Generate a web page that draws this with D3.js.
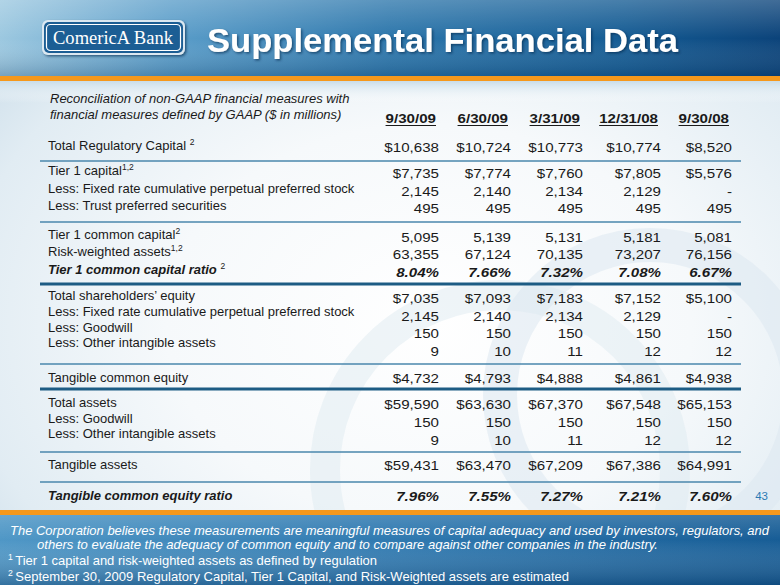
<!DOCTYPE html>
<html><head><meta charset="utf-8">
<script src="https://cdn.jsdelivr.net/npm/d3@7"></script>
<style>html,body{margin:0;padding:0;background:#fff;} svg{display:block;}</style>
</head><body>
<svg id="c" width="780" height="585"></svg>
<script>
// ---------- DATA ----------
const titleText = "Supplemental Financial Data";
const periods = ["9/30/09", "6/30/09", "3/31/09", "12/31/08", "9/30/08"];
const rowLabels = [
  "Total Regulatory Capital ^2",
  "Tier 1 capital^1,2",
  "Less: Fixed rate cumulative perpetual preferred stock",
  "Less: Trust preferred securities",
  "Tier 1 common capital^2",
  "Risk-weighted assets^1,2",
  "Tier 1 common capital ratio ^2",
  "Total shareholders\u2019 equity",
  "Less: Fixed rate cumulative perpetual preferred stock",
  "Less: Goodwill",
  "Less: Other intangible assets",
  "Tangible common equity",
  "Total assets",
  "Less: Goodwill",
  "Less: Other intangible assets",
  "Tangible assets",
  "Tangible common equity ratio"
];
const rowFormats = ["usd","usd","num","num","num","num","pct","usd","num","num","num","usd","usd","num","num","usd","pct"];
const vals_093009 = [10638, 7735, 2145, 495, 5095, 63355, 8.04, 7035, 2145, 150, 9, 4732, 59590, 150, 9, 59431, 7.96];
const vals_063009 = [10724, 7774, 2140, 495, 5139, 67124, 7.66, 7093, 2140, 150, 10, 4793, 63630, 150, 10, 63470, 7.55];
const vals_033109 = [10773, 7760, 2134, 495, 5131, 70135, 7.32, 7183, 2134, 150, 11, 4888, 67370, 150, 11, 67209, 7.27];
const vals_123108 = [10774, 7805, 2129, 495, 5181, 73207, 7.08, 7152, 2129, 150, 12, 4861, 67548, 150, 12, 67386, 7.21];
const vals_093008 = [8520, 5576, null, 495, 5081, 76156, 6.67, 5100, null, 150, 12, 4938, 65153, 150, 12, 64991, 7.60];
const headerNote = ["Reconciliation of non-GAAP financial measures with", "financial measures defined by GAAP ($ in millions)"];
const footNotes = [
  "The Corporation believes these measurements are meaningful measures of capital adequacy and used by investors, regulators, and",
  "others to evaluate the adequacy of common equity and to compare against other companies in the industry.",
  "Tier 1 capital and risk-weighted assets as defined by regulation",
  "September 30, 2009 Regulatory Capital, Tier 1 Capital, and Risk-Weighted assets are estimated"
];
const pageNumber = "43";

// ---------- LAYOUT ----------
const W = 780, H = 585;
const svg = d3.select("#c");
const defs = svg.append("defs");
const colRight = d3.scaleOrdinal().domain(periods).range([439, 511, 583, 661, 732]);
const rowIdx = d3.range(rowLabels.length);
const labelY = d3.scaleOrdinal().domain(rowIdx).range([150,175,193,210,239,256,274,300,316,332,347,382,407,423,438,469,500]);
const valueY = d3.scaleOrdinal().domain(rowIdx).range([152,178,196,213,242,259,277,303,321,338,356,383,409,427,445,470,501]);
const rules = [{y:161,w:1.6,c:"#4a87ad"},{y:222,w:1.6,c:"#4a87ad"},{y:284,w:3,c:"#1d5c84"},{y:364,w:1.6,c:"#4a87ad"},{y:389,w:3,c:"#1d5c84"},{y:452,w:1.6,c:"#4a87ad"},{y:482,w:1.6,c:"#4a87ad"}];
const FONT = "'Liberation Sans', Arial, Helvetica, sans-serif";

function lg(id, x1,y1,x2,y2, stops){
  const g = defs.append("linearGradient").attr("id",id).attr("x1",x1).attr("y1",y1).attr("x2",x2).attr("y2",y2);
  stops.forEach(s=>g.append("stop").attr("offset",s[0]).attr("stop-color",s[1]).attr("stop-opacity", s[2]==null?1:s[2]));
}
lg("hdrH","0","0","1","0",[[0,"#9cc8e0"],[0.22,"#5a9dc9"],[0.5,"#2c76ab"],[0.8,"#145b93"],[1,"#0b437a"]]);
lg("hdrV","0","0","0","1",[[0,"#ffffff",0.22],[0.5,"#ffffff",0.0],[1,"#002850",0.25]]);
lg("ftrH","0","0","1","0",[[0,"#4f97c6"],[0.5,"#2f79b0"],[1,"#175d96"]]);
lg("ftrV","0","0","0","1",[[0,"#ffffff",0.18],[0.4,"#ffffff",0.0],[1,"#002a55",0.35]]);
const rg = defs.append("radialGradient").attr("id","body").attr("cx","0.55").attr("cy","0.55").attr("r","0.75");
[[0,"#ffffff"],[0.45,"#f6f9fb"],[0.8,"#e1ecf3"],[1,"#c8dbe8"]].forEach(s=>rg.append("stop").attr("offset",s[0]).attr("stop-color",s[1]));
lg("bodyTop","0","0","0","1",[[0,"#c9dde9",1],[1,"#ffffff",0]]);
const f = defs.append("filter").attr("id","sh").attr("x","-10%").attr("y","-20%").attr("width","120%").attr("height","150%");
f.append("feDropShadow").attr("dx",1.5).attr("dy",1.5).attr("stdDeviation",1.2).attr("flood-color","#06284a").attr("flood-opacity",0.6);

// body background
svg.append("rect").attr("width",W).attr("height",H).attr("fill","url(#body)");
svg.append("rect").attr("y",81).attr("width",W).attr("height",22).attr("fill","url(#bodyTop)");
// watermark arcs
const wm = svg.append("g").attr("fill","none").attr("stroke","#dce8f0").attr("stroke-opacity",0.55);
wm.append("circle").attr("cx",650).attr("cy",395).attr("r",150).attr("stroke-width",34);
wm.append("circle").attr("cx",500).attr("cy",470).attr("r",175).attr("stroke-width",30).attr("stroke-opacity",0.45);

// header band
svg.append("rect").attr("width",W).attr("height",77).attr("fill","url(#hdrH)");
svg.append("rect").attr("width",W).attr("height",77).attr("fill","url(#hdrV)");
svg.append("rect").attr("y",76).attr("width",W).attr("height",5).attr("fill","#f5981c");

// logo
const logo = svg.append("g");
logo.append("rect").attr("x",42).attr("y",20).attr("width",143).attr("height",35).attr("rx",6).attr("fill","#dbe8f1").attr("filter","url(#sh)");
logo.append("rect").attr("x",44).attr("y",22).attr("width",139).attr("height",31).attr("rx",5).attr("fill","#1c5e94");
logo.append("rect").attr("x",46.5).attr("y",24.5).attr("width",134).attr("height",26).attr("rx",4).attr("fill","none").attr("stroke","#ffffff").attr("stroke-width",1.2);
logo.append("text").attr("x",53).attr("y",43.5).attr("textLength",120).attr("lengthAdjust","spacingAndGlyphs")
  .attr("font-family","'Liberation Serif','DejaVu Serif',serif").attr("font-size",19).attr("fill","#fff").text("ComericA Bank");

// title
svg.append("text").attr("x",207).attr("y",52).attr("textLength",471).attr("lengthAdjust","spacingAndGlyphs")
  .attr("font-family",FONT).attr("font-weight","bold").attr("font-size",32.5).attr("fill","#fff")
  .attr("filter","url(#sh)").text(titleText);

// footer band
svg.append("rect").attr("y",510).attr("width",W).attr("height",75).attr("fill","url(#ftrH)");
svg.append("rect").attr("y",510).attr("width",W).attr("height",75).attr("fill","url(#ftrV)");
svg.append("rect").attr("y",510).attr("width",W).attr("height",5).attr("fill","#f5981c");

// table header note
svg.selectAll("text.hn").data(headerNote).join("text").attr("class","hn")
  .attr("x",50).attr("y",(d,i)=>103+i*15.5)
  .attr("font-family",FONT).attr("font-style","italic").attr("font-size",13).attr("fill","#1a1a1a").text(d=>d);

// column headers
const VS = 1.12, VF = 13.5;
periods.forEach(p=>{
  const g = svg.append("g").attr("transform",`translate(${colRight(p)-3},123) scale(${VS},1)`);
  const t = g.append("text").attr("text-anchor","end").attr("font-family",FONT).attr("font-weight","bold")
    .attr("font-size",VF).attr("fill","#1a1a1a").text(p);
  const len = t.node().getComputedTextLength();
  g.append("line").attr("x1",-len).attr("x2",0).attr("y1",2.5).attr("y2",2.5).attr("stroke","#1a1a1a").attr("stroke-width",1.1);
});

// rules
svg.selectAll("line.rule").data(rules).join("line").attr("class","rule")
  .attr("x1",40).attr("x2",741).attr("y1",d=>d.y).attr("y2",d=>d.y)
  .attr("stroke",d=>d.c).attr("stroke-width",d=>d.w);

// row labels
const boldRows = new Set([6,16]);
rowLabels.forEach((lab,i)=>{
  const parts = lab.split("^");
  const t = svg.append("text").attr("x",48).attr("y",labelY(i)).attr("font-family",FONT).attr("font-size",13)
    .attr("fill","#1a1a1a")
    .attr("font-weight",boldRows.has(i)?"bold":null).attr("font-style",boldRows.has(i)?"italic":null);
  t.append("tspan").text(parts[0]);
  if(parts[1]) t.append("tspan").attr("dy",-5).attr("font-size",8.5).attr("font-weight","normal").attr("font-style","normal").text(parts[1]);
});

// values
const series = [vals_093009, vals_063009, vals_033109, vals_123108, vals_093008];
const fmtN = d3.format(",");
function fmt(v,k){
  if(v==null) return "-";
  if(k==="usd") return "$"+fmtN(v);
  if(k==="pct") return d3.format(".2f")(v)+"%";
  return fmtN(v);
}
periods.forEach((p,ci)=>{
  series[ci].forEach((v,ri)=>{
    svg.append("g").attr("transform",`translate(${colRight(p)},${valueY(ri)}) scale(${VS},1)`)
      .append("text").attr("text-anchor","end").attr("font-family",FONT).attr("font-size",VF)
      .attr("fill","#1a1a1a")
      .attr("font-weight",boldRows.has(ri)?"bold":null).attr("font-style",boldRows.has(ri)?"italic":null)
      .text(fmt(v,rowFormats[ri]));
  });
});

// page number
svg.append("text").attr("x",768).attr("y",500).attr("text-anchor","end").attr("font-family",FONT)
  .attr("font-size",11.5).attr("fill","#2b7ab3").text(pageNumber);

// footer text
const ft = [
  {x:10, y:535, len:759, it:true, sup:null, fs:13},
  {x:37, y:549, len:621, it:true, sup:null, fs:13},
  {x:8, y:565, len:369, it:false, sup:"1", fs:13.5},
  {x:8, y:581, len:561, it:false, sup:"2", fs:13.5}
];
footNotes.forEach((s,i)=>{
  const o = ft[i];
  const t = svg.append("text").attr("x",o.x).attr("y",o.y).attr("textLength",o.len).attr("lengthAdjust","spacingAndGlyphs")
    .attr("font-family",FONT).attr("font-size",o.fs).attr("fill","#fff").attr("font-style",o.it?"italic":null);
  if(o.sup){
    t.append("tspan").attr("dy",-5).attr("font-size",9).text(o.sup+" ");
    t.append("tspan").attr("dy",5).text(s);
  } else t.text(s);
});
</script>
</body></html>
